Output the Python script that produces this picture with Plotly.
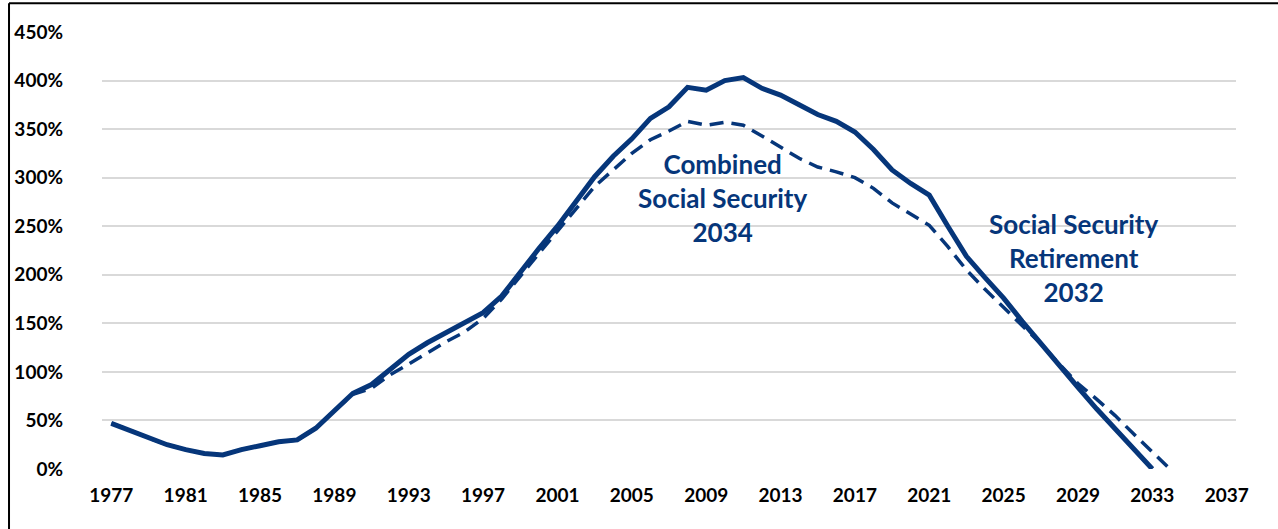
import plotly.graph_objects as go

# Trust fund ratios (reserves as a percent of annual cost), by year
years = list(range(1977, 2034))
retirement = [47, 40, 32, 25, 20, 16, 14.5, 20, 24, 28,
              30, 42, 60, 78, 87, 103, 118, 130, 140, 150,
              161, 178, 203, 227, 250, 275, 301, 322, 340, 361,
              373, 393, 390, 400, 403, 392, 385, 375, 365, 358,
              347, 329, 308, 294, 282, 250, 219, 197, 176, 152,
              129, 106, 84, 62, 41, 20, 0]

combined_years = list(range(1977, 2035))
combined = [47, 40, 32, 25, 20, 16, 14.5, 20, 24, 28,
            30, 42, 60, 77, 83, 97, 108, 120, 131, 141,
            155, 175, 199, 222, 245, 268, 291, 308, 325, 339,
            348, 358, 354, 357, 354, 343, 332, 320, 311, 306,
            300, 289, 274, 262, 251, 229, 205, 185, 166, 148,
            129, 108, 88, 72, 55, 36, 18, -1]

x_ticks = list(range(1977, 2038, 4))
y_ticks = list(range(0, 451, 50))

navy = "#06367A"
font_family = "Lato, 'Open Sans', sans-serif"

fig = go.Figure()
fig.add_trace(go.Scatter(
    x=years, y=retirement, mode="lines",
    line=dict(color=navy, width=5),
    hoverinfo="skip", name="Social Security Retirement",
))
fig.add_trace(go.Scatter(
    x=combined_years, y=combined, mode="lines",
    line=dict(color=navy, width=3.5, dash="14px,8px"),
    hoverinfo="skip", name="Combined Social Security",
))

fig.add_annotation(
    x=2009.9, y=279, xref="x", yref="y",
    text="Combined<br>Social Security<br>2034",
    showarrow=False, align="center",
    font=dict(family=font_family, size=26, color=navy, weight="bold"),
)
fig.add_annotation(
    x=2028.8, y=217, xref="x", yref="y",
    text="Social Security<br>Retirement<br>2032",
    showarrow=False, align="center",
    font=dict(family=font_family, size=26, color=navy, weight="bold"),
)

# Outer frame (left and top edges)
fig.add_shape(type="line", xref="paper", yref="paper",
              x0=-0.082, x1=-0.082, y0=-0.14, y1=1.066,
              line=dict(color="black", width=2))
fig.add_shape(type="line", xref="paper", yref="paper",
              x0=-0.082, x1=1.05, y0=1.066, y1=1.066,
              line=dict(color="black", width=2))

fig.update_layout(
    width=1278, height=529,
    margin=dict(l=102, r=42, t=32, b=60),
    paper_bgcolor="white", plot_bgcolor="white",
    showlegend=False,
    font=dict(family=font_family, color="black"),
)
fig.update_xaxes(
    range=[1976.5, 2037.5],
    tickvals=x_ticks, ticktext=[str(v) for v in x_ticks],
    showgrid=False, zeroline=False, showline=False, ticks="",
    tickfont=dict(family=font_family, size=19, color="black", weight="bold"),
    ticklabelstandoff=13,
)
fig.update_yaxes(
    range=[0, 450],
    tickvals=y_ticks, ticktext=[f"{v}%" for v in y_ticks],
    showgrid=True, gridcolor="#D9D9D9", gridwidth=1.5,
    zeroline=False, showline=False, ticks="",
    tickfont=dict(family=font_family, size=19, color="black", weight="bold"),
    ticklabelstandoff=38,
)

fig.write_html("out.html")
